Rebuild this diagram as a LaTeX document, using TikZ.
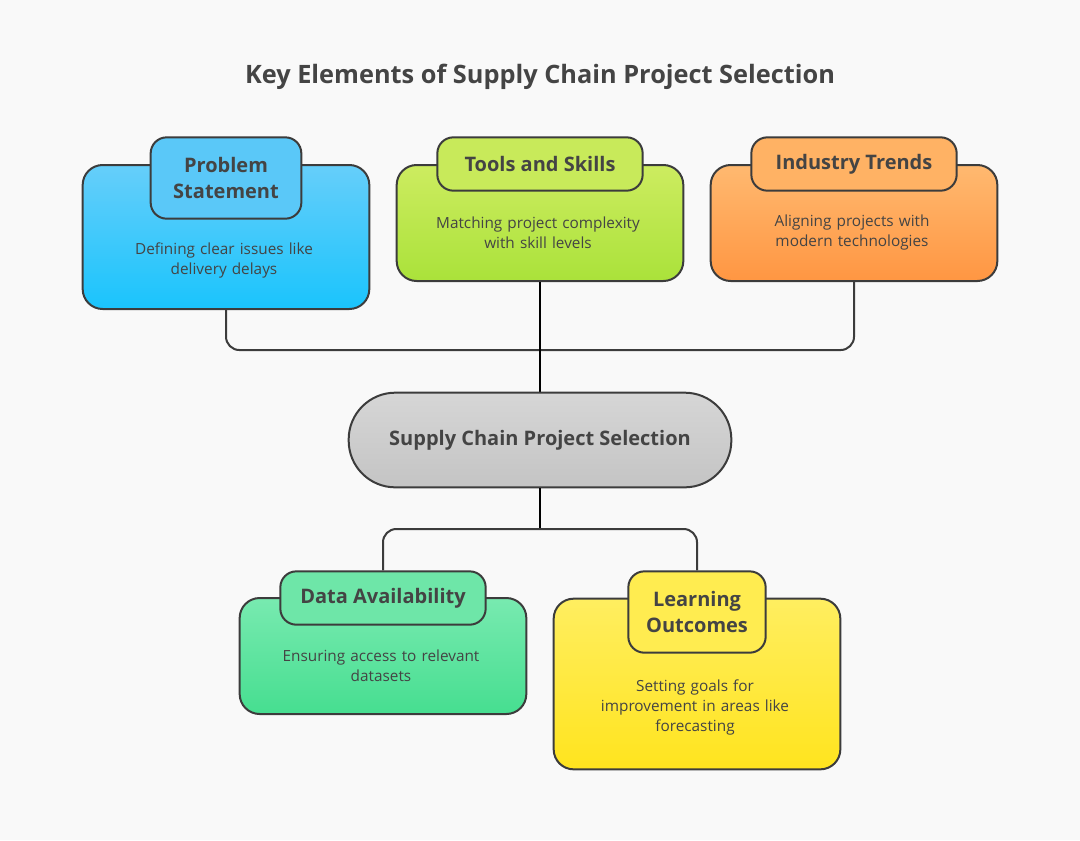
\documentclass[tikz,border=0pt]{standalone}
\usepackage{fontspec}
\setmainfont{Open Sans}
\definecolor{edge}{HTML}{3C3C3C}
\definecolor{ink}{HTML}{444444}
\tikzset{every picture/.style={line width=1.5pt}}
\tikzset{
  card/.style={draw=edge, rounded corners=15pt, minimum width=215pt, inner sep=0pt},
  tab/.style={draw=edge, rounded corners=12pt, inner sep=0pt, align=center, font=\fontsize{15}{20}\selectfont\bfseries, text=ink},
  body/.style={align=center, font=\fontsize{11.5}{15}\selectfont, text=ink, text width=180pt},
  link/.style={draw=edge, rounded corners=10pt}
}
\begin{document}
\begin{tikzpicture}[x=0.75pt,y=0.75pt,yscale=-1,xscale=1]
		\useasboundingbox[fill={rgb,255:red,249;green,249;blue,249}] (0,0) rectangle (1080,840);
		
		\node (title) at (540,77) [font=\fontsize{19}{22}\selectfont\bfseries, text=ink] {Key Elements of Supply Chain Project Selection};
		
		%connectors
		\coordinate (hub) at (540,350);
		\coordinate (split) at (540,529);
		
		%top cards
		\node (ps) at (226,237) [card, minimum height=108pt, top color={rgb,255:red,102;green,206;blue,250}, bottom color={rgb,255:red,26;green,196;blue,252}] {};
		\node (ts) at (540,223) [card, minimum height=87pt, top color={rgb,255:red,205;green,236;blue,96}, bottom color={rgb,255:red,170;green,226;blue,58}] {};
		\node (it) at (854,223) [card, minimum height=87pt, top color={rgb,255:red,255;green,185;blue,112}, bottom color={rgb,255:red,255;green,150;blue,66}] {};
		\draw[link] (ps.south) |- (hub) -| (it.south);
		\draw (ts.south) -- (hub) -- (540,392);
		
		\node (ps-tab) at (226,178) [tab, minimum width=113pt, minimum height=61pt, fill={rgb,255:red,90;green,200;blue,248}] {Problem\\Statement};
		\node (ts-tab) at (540,164) [tab, minimum width=154pt, minimum height=40pt, fill={rgb,255:red,200;green,234;blue,90}] {Tools and Skills};
		\node (it-tab) at (854,164) [tab, minimum width=154pt, minimum height=40pt, fill={rgb,255:red,255;green,178;blue,100}] {Industry Trends};
		
		\node (ps-text) at (224,260) [body] {Defining clear issues like\\delivery delays};
		\node (ts-text) at (538,233) [body] {Matching project complexity\\with skill levels};
		\node (it-text) at (852,233) [body] {Aligning projects with\\modern technologies};
		
		%center
		\node (center) at (540,440) [draw=edge, rounded corners=35pt, minimum width=287pt, minimum height=71pt, top color={rgb,255:red,214;green,214;blue,214}, bottom color={rgb,255:red,196;green,196;blue,196}, font=\fontsize{15}{17}\selectfont\bfseries, text=ink] {Supply Chain Project Selection};
		
		%bottom cards
		\node (da) at (383,656) [card, minimum height=87pt, top color={rgb,255:red,120;green,234;blue,176}, bottom color={rgb,255:red,70;green,222;blue,144}] {};
		\node (lo) at (697,684) [card, minimum height=128pt, top color={rgb,255:red,255;green,238;blue,96}, bottom color={rgb,255:red,255;green,228;blue,30}] {};
		\draw (center.south) -- (split);
		
		\node (da-tab) at (383,598) [tab, minimum width=154pt, minimum height=40pt, fill={rgb,255:red,110;green,230;blue,168}] {Data Availability};
		\node (lo-tab) at (697,612) [tab, minimum width=103pt, minimum height=61pt, fill={rgb,255:red,255;green,236;blue,80}] {Learning\\Outcomes};
		\draw[link] (da-tab.north) |- (split) -| (lo-tab.north);
		
		\node (da-text) at (381,666) [body] {Ensuring access to relevant\\datasets};
		\node (lo-text) at (695,707) [body] {Setting goals for\\improvement in areas like\\forecasting};
		
	\end{tikzpicture}
\end{document}
